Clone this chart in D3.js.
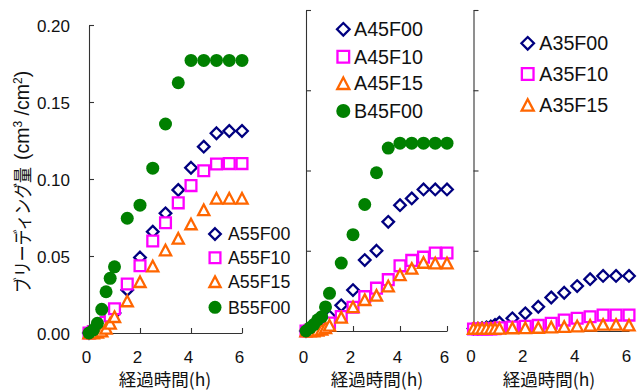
<!DOCTYPE html>
<html>
<head>
<meta charset="utf-8">
<script src="https://cdn.jsdelivr.net/npm/d3@7"></script>
<style>
  html, body { margin: 0; padding: 0; background: #fff; }
  svg { display: block; }
  .lat { font-family: "Liberation Sans", Arial, sans-serif; fill: #111; }
  .jp { font-family: "Noto Sans CJK JP", sans-serif; fill: #111; }
</style>
</head>
<body>
<svg id="chart" width="641" height="390"></svg>
<script>
// Elapsed time (h): every 10 min for the first hour, then every 30 min
const times = [0, 0.17, 0.33, 0.5, 0.67, 0.83, 1, 1.5, 2, 2.5, 3, 3.5, 4, 4.5, 5, 5.5, 6];
const xTicks = [0, 2, 4, 6];
const yTicks = [0, 0.05, 0.10, 0.15, 0.20];
const yTickLabels = ["0.00", "0.05", "0.10", "0.15", "0.20"];

// Bleeding amount (cm3/cm2)
const a55f00 = [0, 0.001, 0.002, 0.004, 0.006, 0.009, 0.013, 0.028, 0.049, 0.0658, 0.0777, 0.0929, 0.1073, 0.121, 0.1297, 0.1312, 0.1312];
const a55f10 = [0, 0.001, 0.002, 0.004, 0.007, 0.011, 0.0157, 0.0318, 0.0437, 0.0597, 0.0716, 0.0845, 0.0957, 0.1054, 0.1097, 0.110, 0.110];
const a55f15 = [0, 0, 0.0005, 0.0012, 0.003, 0.0063, 0.0106, 0.0208, 0.0333, 0.0435, 0.0539, 0.0615, 0.0708, 0.080, 0.0875, 0.0875, 0.0875];
const b55f00 = [0, 0.002, 0.0063, 0.0154, 0.0268, 0.0355, 0.043, 0.0745, 0.083, 0.107, 0.1357, 0.1625, 0.177, 0.177, 0.177, 0.177, 0.177];

const a45f00 = [0, 0.001, 0.002, 0.003, 0.004, 0.006, 0.009, 0.016, 0.0255, 0.0442, 0.050, 0.068, 0.0784, 0.0826, 0.0882, 0.0882, 0.0882];
const a45f10 = [0, 0.0005, 0.001, 0.0015, 0.002, 0.003, 0.005, 0.009, 0.0148, 0.0214, 0.0267, 0.032, 0.0406, 0.044, 0.046, 0.0486, 0.0486];
const a45f15 = [0, 0, 0, 0.0005, 0.001, 0.002, 0.0035, 0.0085, 0.015, 0.0195, 0.0222, 0.028, 0.035, 0.039, 0.0427, 0.0423, 0.0423];
const b45f00 = [0, 0.002, 0.004, 0.007, 0.0089, 0.015, 0.0235, 0.0423, 0.060, 0.0788, 0.0986, 0.114, 0.117, 0.117, 0.117, 0.117, 0.117];

const a35f00 = [0.0015, 0.0015, 0.0018, 0.0022, 0.0028, 0.0038, 0.0052, 0.0079, 0.011, 0.0151, 0.0209, 0.0238, 0.028, 0.0323, 0.0343, 0.0343, 0.0343];
const a35f10 = [0.0012, 0.0012, 0.0012, 0.0012, 0.0012, 0.0015, 0.002, 0.0025, 0.003, 0.0035, 0.0048, 0.0068, 0.0079, 0.0089, 0.0099, 0.0099, 0.0099];
const a35f15 = [0.0016, 0.0016, 0.0016, 0.0016, 0.0016, 0.0016, 0.0017, 0.0019, 0.002, 0.0022, 0.0025, 0.0028, 0.0031, 0.0035, 0.0041, 0.0041, 0.0037];

const names1 = ["A55F00", "A55F10", "A55F15", "B55F00"];
const names2 = ["A45F00", "A45F10", "A45F15", "B45F00"];
const names3 = ["A35F00", "A35F10", "A35F15"];

const styles = [
  { shape: "diamond", color: "#000080" },
  { shape: "square", color: "#ff00ff" },
  { shape: "triangle", color: "#ff6600" },
  { shape: "circle", color: "#008000" }
];

const panels = [
  { series: [a55f00, a55f10, a55f15, b55f00], names: names1,
    x: [89, 242], y: [333, 25], yLabels: true, tickLabelY: 24, title: 165,
    legend: { mx: 215, tx: 228, rows: [234, 257.7, 281.7, 307.3], font: 17.8, k: 1 } },
  { series: [a45f00, a45f10, a45f15, b45f00], names: names2,
    x: [306, 447], y: [331, 10], yLabels: false, tickLabelY: 25.5, title: 377,
    legend: { mx: 343.3, tx: 354, rows: [29.3, 56.7, 83.3, 111], font: 19.7, k: 1.08 } },
  { series: [a35f00, a35f10, a35f15], names: names3,
    x: [473.5, 629], y: [331, 10], yLabels: false, tickLabelY: 25, title: 549,
    legend: { mx: 527.7, tx: 539.3, rows: [43.3, 74, 105], font: 19.7, k: 1.08 } }
];

const svg = d3.select("#chart");

function markerPath(shape, k) {
  const p = d3.path();
  if (shape === "diamond") {
    const r = 5.8 * k;
    p.moveTo(0, -r); p.lineTo(r, 0); p.lineTo(0, r); p.lineTo(-r, 0); p.closePath();
  } else if (shape === "square") {
    const h = 5.4 * k;
    p.rect(-h, -h, 2 * h, 2 * h);
  } else if (shape === "triangle") {
    const w = 5.6 * k, h = 5.3 * k;
    p.moveTo(0, -h); p.lineTo(w, h); p.lineTo(-w, h); p.closePath();
  } else {
    p.arc(0, 0, 6.5 * k, 0, 2 * Math.PI);
  }
  return p.toString();
}

function drawMarker(g, shape, color, k) {
  const m = g.append("path").attr("d", markerPath(shape, k));
  if (shape === "circle") {
    m.attr("fill", color).attr("stroke", "none");
  } else {
    m.attr("fill", "#fff").attr("stroke", color).attr("stroke-width", 2.3)
     .attr("stroke-linejoin", "miter");
  }
}

panels.forEach(pn => {
  const x = d3.scaleLinear().domain([0, 6]).range(pn.x);
  const y = d3.scaleLinear().domain([0, 0.2]).range(pn.y);
  const g = svg.append("g");

  // x axis: ticks point inward, labels sit slightly left of each tick
  const xAxis = g.append("g")
    .attr("transform", `translate(0,${pn.y[0]})`)
    .call(d3.axisBottom(x).tickValues(xTicks).tickSize(-5).tickSizeOuter(0)
      .tickPadding(pn.tickLabelY - 6).tickFormat(d3.format("d")));
  xAxis.selectAll("text").attr("class", "lat").attr("x", -3)
    .style("font-size", "17px").attr("dy", "0.71em");

  // y axis
  const yAxis = g.append("g")
    .attr("transform", `translate(${pn.x[0]},0)`)
    .call(d3.axisLeft(y).tickValues(yTicks).tickSize(-5).tickSizeOuter(0)
      .tickPadding(19).tickFormat((d, i) => pn.yLabels ? yTickLabels[i] : ""));
  yAxis.selectAll("text").attr("class", "lat").style("font-size", "17px").attr("dy", "0.4em");

  [xAxis, yAxis].forEach(a => {
    a.attr("font-family", null).attr("font-size", null);
    a.selectAll("path, line").attr("stroke", "#333").attr("stroke-width", 1.1);
  });

  // data markers, one series after another
  pn.series.forEach((vals, si) => {
    const st = styles[si];
    const sg = g.append("g");
    vals.forEach((v, i) => {
      const mg = sg.append("g").attr("transform", `translate(${x(times[i])},${y(v)})`);
      drawMarker(mg, st.shape, st.color, 1);
    });
  });

  // legend
  pn.names.forEach((nm, i) => {
    const lg = pn.legend;
    const mg = g.append("g").attr("transform", `translate(${lg.mx},${lg.rows[i]})`);
    drawMarker(mg, styles[i].shape, styles[i].color, lg.k);
    g.append("text").attr("class", "lat")
      .attr("x", lg.tx).attr("y", lg.rows[i]).attr("dy", "0.36em")
      .style("font-size", lg.font + "px").text(nm);
  });

  // x axis title
  g.append("text").attr("class", "jp")
    .attr("x", pn.title).attr("y", 386).attr("text-anchor", "middle")
    .style("font-size", "17.5px").text("経過時間(h)");
});

// y axis title (rotated)
const yt = svg.append("g").attr("transform", "translate(30,293) rotate(-90)");
yt.append("text").attr("class", "jp").attr("x", 0).attr("y", 0)
  .style("font-size", "19px")
  .attr("textLength", 126).attr("lengthAdjust", "spacingAndGlyphs")
  .text("ブリーディング量");
const yl = yt.append("text").attr("class", "lat").attr("x", 133).attr("y", -1)
  .style("font-size", "19.5px");
yl.append("tspan").text("(cm");
yl.append("tspan").attr("dy", -7).style("font-size", "12px").text("3");
yl.append("tspan").attr("dy", 7).text(" /cm");
yl.append("tspan").attr("dy", -7).style("font-size", "12px").text("2");
yl.append("tspan").attr("dy", 7).text(")");
</script>
</body>
</html>
